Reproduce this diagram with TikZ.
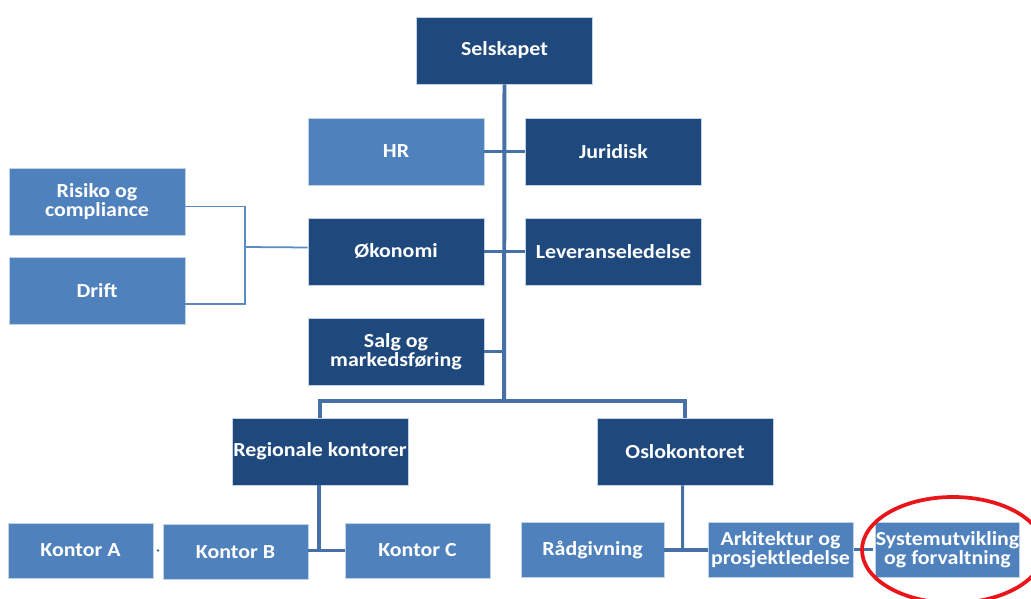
\documentclass[tikz,border=0pt]{standalone}
\usepackage{fontspec}
\setmainfont{Carlito}[FakeStretch=1.1]
\usetikzlibrary{calc}
\definecolor{darkblue}{HTML}{1F497D}
\definecolor{lightblue}{HTML}{4F81BD}
\definecolor{linkblue}{HTML}{4770A8}
\definecolor{thinblue}{HTML}{5B8AC6}
\definecolor{markred}{HTML}{E8161B}
\begin{document}
\begin{tikzpicture}[x=0.03cm, y=-0.03cm,
  box/.style={draw=white!65!lightblue, line width=0.5pt, text=white,
    font=\bfseries\fontsize{17}{16.5}\selectfont, align=center,
    inner sep=0pt, minimum width=5.28cm, minimum height=2.01cm},
  darkbox/.style={box, fill=darkblue},
  lightbox/.style={box, fill=lightblue},
  smallbox/.style={minimum width=4.35cm, minimum height=1.65cm},
  spine/.style={draw=linkblue, line width=3.4pt},
  link/.style={draw=linkblue, line width=2.6pt},
  thinlink/.style={draw=thinblue, line width=1.5pt},
  marker/.style={draw=markred, line width=3.2pt}]
\useasboundingbox (0,0) rectangle (1031,599);

% top level and staff functions
\node[darkbox] (sel) at (504.5,50.5) {Selskapet};
\node[lightbox] (hr) at (396,151.5) {HR};
\node[darkbox] (jur) at (613.5,151.5) {Juridisk};
\node[darkbox] (oko) at (396,251.5) {Økonomi};
\node[darkbox] (lev) at (613.5,251.5) {Leveranseledelse};
\node[darkbox] (salg) at (396,351.5) {Salg og\\markedsføring};

% units under Økonomi
\node[lightbox] (ris) at (97,201.5) {Risiko og\\compliance};
\node[lightbox] (drift) at (97,290.5) {Drift};

% offices
\node[darkbox] (reg) at (320,451.5) {Regionale kontorer};
\node[darkbox] (oslo) at (685,451.5) {Oslokontoret};

% regional offices
\node[lightbox, smallbox] (ka) at (80.5,550.5) {Kontor A};
\node[lightbox, smallbox] (kb) at (235.5,552) {Kontor B};
\node[lightbox, smallbox] (kc) at (417.5,550.5) {Kontor C};

% Oslo departments
\node[lightbox, smallbox, minimum width=4.29cm] (rad) at (592.5,549.5) {Rådgivning};
\node[lightbox, smallbox] (ark) at (780.5,549.5) {Arkitektur og\\prosjektledelse};
\node[lightbox, smallbox, minimum width=4.29cm] (sys) at (947.5,549.5) {Systemutvikling\\og forvaltning};

% main spine and bus to the offices
\coordinate (bus) at (504,401);
\path[spine] (sel.south) -- (bus);
\path[link] (reg.north) |- (bus) -| (oslo.north);
\path[link] (hr.east) -- (jur.west);
\path[link] (oko.east) -- (lev.west);
\path[link] (salg.east) -- (salg.east -| bus);

% bracket from Økonomi to its units
\coordinate (br) at (245,247);
\path[thinlink] ($(oko.west)+(0,-4)$) -- (br);
\path[thinlink] ($(ris.east)+(0,5)$) -| (br) |- ($(drift.east)+(0,13.5)$);

% regional offices connectors
\coordinate (rj) at (319,550.5);
\path[link] ($(reg.south)+(-1,0)$) -- (rj);
\path[link] (kb.east |- rj) -- (kc.west |- rj);
\fill[linkblue] ($(ka.east)!0.5!(kb.west |- ka.east)$) circle (1.3);

% Oslo connectors
\coordinate (oj) at (682.7,550);
\path[link] ($(oslo.south)+(-2.3,0)$) -- (oj);
\path[link] (rad.east |- oj) -- (ark.west |- oj);
\path[link] (ark.east) ++(1,0) -- ++(19,0);

% highlight around Systemutvikling og forvaltning
\draw[marker] (953,550) ellipse (91 and 53);
\end{tikzpicture}
\end{document}
